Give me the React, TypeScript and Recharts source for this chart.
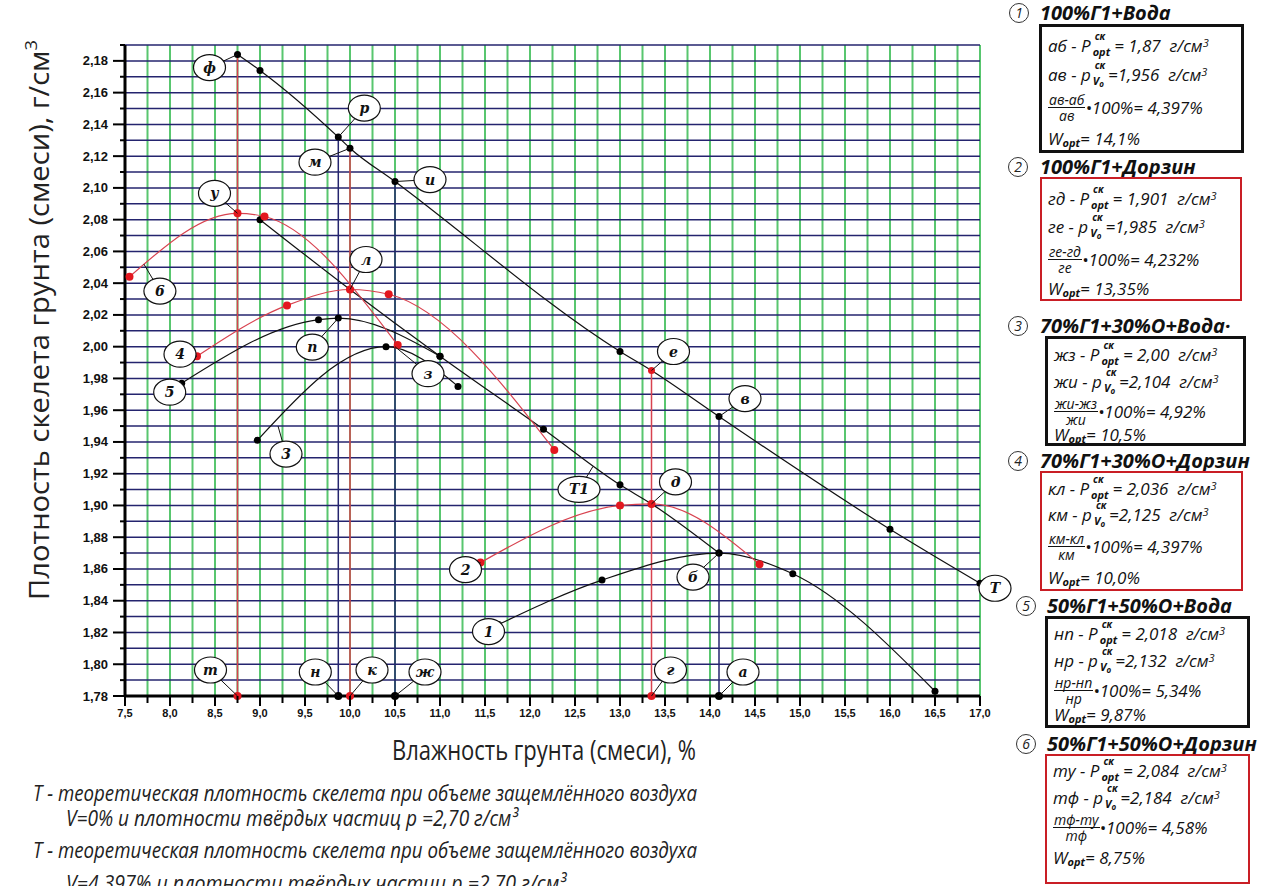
import React from "react";
import { LineChart, Line, XAxis, YAxis, CartesianGrid, ReferenceDot } from "recharts";

// влажность W, % -> плотность скелета, г/см3
const tW = [8.75, 9.0, 9.87, 10.0, 10.5, 13.0, 13.35, 14.1, 16.0, 17.0];
const tP = [2.184, 2.174, 2.132, 2.125, 2.104, 1.997, 1.985, 1.956, 1.885, 1.851];
const t1W = [9.0, 10.0, 11.0, 12.15, 13.0, 13.35, 14.1];
const t1P = [2.08, 2.036, 1.994, 1.948, 1.913, 1.901, 1.87];

const c1W = [11.65, 12.8, 14.1, 14.92, 16.5];
const c1P = [1.825, 1.853, 1.87, 1.857, 1.783];
const c2W = [11.45, 13.0, 13.35, 14.55];
const c2P = [1.864, 1.9, 1.901, 1.863];
const c3W = [8.97, 10.4, 11.2];
const c3P = [1.941, 2.0, 1.975];
const c4W = [8.3, 9.3, 10.0, 10.43, 12.27];
const c4P = [1.994, 2.026, 2.036, 2.033, 1.935];
const c5W = [8.13, 9.65, 9.87, 11.0];
const c5P = [1.977, 2.017, 2.018, 1.994];
const c6W = [7.55, 8.75, 9.05, 10.53];
const c6P = [2.044, 2.084, 2.082, 2.001];

// red-marked points on the theoretical lines
const tRedW = [13.35];
const t1RedW = [10.0, 13.35];

// drop lines W_opt / W at V0
const dropW = [8.75, 9.87, 10.0, 10.5, 13.35, 14.1];
const dropTop = [2.184, 2.132, 2.125, 2.104, 1.985, 1.956];
const dropDorzin = [true, false, true, false, true, false];

// letter / number marks
const markNames = ["ф", "р", "м", "и", "у", "л", "6", "4", "5", "п", "з", "3", "е", "в", "д", "T1", "2", "б", "1", "T", "т", "н", "к", "ж", "г", "а"];
const markW = [8.75, 9.87, 10.0, 10.5, 8.75, 10.0, 7.71, 8.3, 8.13, 9.87, 10.5, 9.2, 13.35, 14.1, 13.35, 12.7, 11.45, 14.1, 11.65, 17.0, 8.75, 9.87, 10.0, 10.5, 13.35, 14.1];
const markP = [2.184, 2.132, 2.125, 2.104, 2.084, 2.036, 2.052, 1.994, 1.977, 2.018, 2.0, 1.95, 1.985, 1.956, 1.901, 1.9246, 1.864, 1.87, 1.825, 1.851, 1.78, 1.78, 1.78, 1.78, 1.78, 1.78];
// pixel offsets of the circled tag from its point
const markOffset: [number, number][] = [
  [-28, 13], [26, -29], [-35, 14], [35, -2], [-23, -20], [16, -30], [16, 27], [-17, -2], [-12, 9], [-26, 29],
  [33, 27], [8, 28], [22, -19], [26, -18], [24, -22], [-14, 23], [-15, 7], [-26, 24], [-10, 7], [15, 5],
  [-27, -26], [-23, -24], [22, -26], [30, -24], [19, -26], [24, -24],
];

const xTickLabels = [7.5, 8.0, 8.5, 9.0, 9.5, 10.0, 10.5, 11.0, 11.5, 12.0, 12.5, 13.0, 13.5, 14.0, 14.5, 15.0, 15.5, 16.0, 16.5, 17.0];
const yTickLabels = [1.78, 1.8, 1.82, 1.84, 1.86, 1.88, 1.9, 1.92, 1.94, 1.96, 1.98, 2.0, 2.02, 2.04, 2.06, 2.08, 2.1, 2.12, 2.14, 2.16, 2.18];

// legend panel
const mixTitles = ["100%Г1+Вода", "100%Г1+Дорзин", "70%Г1+30%О+Вода·", "70%Г1+30%О+Дорзин", "50%Г1+50%О+Вода", "50%Г1+50%О+Дорзин"];
const optPairs = ["аб", "гд", "жз", "кл", "нп", "ту"];
const voPairs = ["ав", "ге", "жи", "км", "нр", "тф"];
const optDensity = ["1,87", "1,901", "2,00", "2,036", "2,018", "2,084"];
const voDensity = ["1,956", "1,985", "2,104", "2,125", "2,132", "2,184"];
const airVoid = ["4,397", "4,232", "4,92", "4,397", "5,34", "4,58"];
const optMoisture = ["14,1", "13,35", "10,5", "10,0", "9,87", "8,75"];

const blockGeom = [
  { titleY: 13, top: 24, bottom: 153, left: 1039, right: 1244, cx: 1018, tx: 1040, rows: [18, 47, 80, 111] },
  { titleY: 167, top: 177, bottom: 301, left: 1040, right: 1242, cx: 1017, tx: 1040, rows: [19, 47, 80, 109] },
  { titleY: 326, top: 336, bottom: 446, left: 1045, right: 1246, cx: 1017, tx: 1040, rows: [15, 42, 72, 95] },
  { titleY: 461, top: 471, bottom: 591, left: 1040, right: 1243, cx: 1017, tx: 1040, rows: [15, 41, 73, 104] },
  { titleY: 606, top: 616, bottom: 728, left: 1045, right: 1250, cx: 1025, tx: 1047, rows: [14, 41, 71, 95] },
  { titleY: 744, top: 754, bottom: 884, left: 1045, right: 1250, cx: 1025, tx: 1047, rows: [14, 41, 71, 101] },
];

const RED = "#e3171f";
const RED_LINE = "#d8424f";
const NAVY = "#24246e";
const GREEN = "#58c66f";

const pts = (w: number[], p: number[]) => w.map((x, i) => ({ x, y: p[i] }));
const withMinor = (m: number[]) =>
  m.flatMap((v, i) => (i < m.length - 1 ? [v, +((v + m[i + 1]) / 2).toFixed(3)] : [v]));
const comma = (v: number, d: number) => v.toFixed(d).replace(".", ",");

const xTicks = withMinor(xTickLabels);
const yTicks = [...withMinor(yTickLabels), 2.19];

function XTick(props: any) {
  const { x, y, payload } = props;
  const v = payload.value as number;
  const major = Math.abs(v * 2 - Math.round(v * 2)) < 1e-6;
  return (
    <g>
      <line x1={x} x2={x} y1={y} y2={y + (major ? 10 : 7)} stroke="#000" strokeWidth={2} />
      {major && (
        <text x={x} y={y + 21} textAnchor="middle" fontFamily="Liberation Sans, Arial, sans-serif" fontWeight="bold" fontSize={11} fill="#111">
          {comma(v, 1)}
        </text>
      )}
    </g>
  );
}

function YTick(props: any) {
  const { x, y, payload } = props;
  const v = payload.value as number;
  const major = Math.abs(v * 50 - Math.round(v * 50)) < 1e-6;
  return (
    <g>
      <line x1={x - (major ? 12 : 5)} x2={x} y1={y} y2={y} stroke="#000" strokeWidth={2} />
      {major && v < 2.185 && (
        <text x={x - 17} y={y + 4.5} textAnchor="end" fontFamily="Liberation Sans, Arial, sans-serif" fontWeight="bold" fontSize={13} fill="#111">
          {comma(v, 2)}
        </text>
      )}
    </g>
  );
}

const dotFn = (color: (x: number) => string, r: number) => (p: any) => (
  <circle key={`d${p.index}`} cx={p.cx} cy={p.cy} r={r} fill={color(p.payload.x)} stroke="none" />
);

function Tag({ cx, cy, i }: { cx: number; cy: number; i: number }) {
  const [dx, dy] = markOffset[i];
  const name = markNames[i];
  const rx = name.length > 1 ? 21 : 16;
  return (
    <g>
      <line x1={cx} y1={cy} x2={cx + dx} y2={cy + dy} stroke="#111" strokeWidth={1} />
      <ellipse cx={cx + dx} cy={cy + dy} rx={rx} ry={13} fill="#fff" stroke="#111" strokeWidth={1.2} />
      <text x={cx + dx} y={cy + dy + 5} textAnchor="middle" fontFamily="DejaVu Serif, serif" fontStyle="italic" fontWeight="bold" fontSize={14} fill="#111">
        {name}
      </text>
    </g>
  );
}

const yTitle = () => (
  <text
    x={49}
    y={320}
    transform="rotate(-90, 49, 320)"
    textAnchor="middle"
    fontFamily="Open Sans, sans-serif"
    fontSize={27}
    fill="#222"
    textLength={560}
    lengthAdjust="spacingAndGlyphs"
  >
    Плотность скелета грунта (смеси), г/см
    <tspan dy={-12} fontSize={17}>3</tspan>
  </text>
);

const xTitle = () => (
  <text x={544} y={760} textAnchor="middle" fontFamily="Open Sans, sans-serif" fontSize={27} fill="#222" textLength={304} lengthAdjust="spacingAndGlyphs">
    Влажность грунта (смеси), %
  </text>
);

function PStack({ sub }: { sub: React.ReactNode }) {
  return (
    <span style={{ position: "relative", display: "inline-block", margin: "0 4px 0 2px" }}>
      <span style={{ position: "absolute", left: 2, top: -3, fontSize: 10, fontWeight: 700, lineHeight: "11px" }}>ск</span>
      <span style={{ fontSize: 11, fontWeight: 700, position: "relative", top: 4 }}>{sub}</span>
    </span>
  );
}

const font = "'Open Sans', sans-serif";

function Row({ y, children }: { y: number; children: React.ReactNode }) {
  return (
    <div
      style={{
        position: "absolute",
        left: 6,
        top: y - 12,
        height: 24,
        display: "flex",
        alignItems: "center",
        whiteSpace: "pre",
        fontStyle: "italic",
        fontSize: 17,
        color: "#111",
      }}
    >
      {children}
    </div>
  );
}

function Block({ i }: { i: number }) {
  const g = blockGeom[i];
  const dorzin = i % 2 === 1;
  return (
    <>
      <div style={{ position: "absolute", left: g.cx - 9, top: g.titleY - 10, width: 18, height: 18, border: "1px solid #333", borderRadius: "50%", fontFamily: font, fontSize: 14, lineHeight: "18px", textAlign: "center", fontStyle: "italic", color: "#222" }}>
        {i + 1}
      </div>
      <div style={{ position: "absolute", left: g.tx, top: g.titleY - 12, fontFamily: font, fontSize: 20, fontWeight: 700, fontStyle: "italic", lineHeight: "24px", color: "#111", whiteSpace: "nowrap" }}>
        {mixTitles[i]}
      </div>
      <div
        style={{
          position: "absolute",
          left: g.left,
          top: g.top,
          width: g.right - g.left,
          height: g.bottom - g.top,
          boxSizing: "border-box",
          border: dorzin ? "2.5px solid #c91e25" : "3px solid #111",
          fontFamily: font,
        }}
      >
        <Row y={g.rows[0]}>
          {optPairs[i]} - P<PStack sub="opt" />= {optDensity[i]}  г/см<sup style={{ fontSize: 11, position: "relative", top: -3 }}>3</sup>
        </Row>
        <Row y={g.rows[1]}>
          {voPairs[i]} - p
          <PStack
            sub={
              <span>
                V<span style={{ fontSize: 8, position: "relative", top: 2 }}>o</span>
              </span>
            }
          />
          ={voDensity[i]}  г/см<sup style={{ fontSize: 11, position: "relative", top: -3 }}>3</sup>
        </Row>
        <Row y={g.rows[2]}>
          <span style={{ display: "inline-flex", flexDirection: "column", alignItems: "center", fontSize: 14, lineHeight: "15px" }}>
            <span style={{ borderBottom: "1.5px solid #111", padding: "0 1px" }}>
              {voPairs[i]}-{optPairs[i]}
            </span>
            <span>{voPairs[i]}</span>
          </span>
          <span>•100%= {airVoid[i]}%</span>
        </Row>
        <Row y={g.rows[3]}>
          W<span style={{ fontSize: 11, fontWeight: 700, position: "relative", top: 4 }}>opt</span>= {optMoisture[i]}%
        </Row>
      </div>
    </>
  );
}

export default function App() {
  const tagIdx = markNames.map((_, i) => i);
  return (
    <div style={{ position: "absolute", left: 0, top: 0, width: 1272, height: 886, background: "#fff", overflow: "hidden" }}>
      <LineChart width={1015} height={780} margin={{ top: 45, right: 35, bottom: 40, left: 0 }} style={{ position: "absolute", left: 0, top: 0 }}>
        <CartesianGrid horizontal={false} stroke={GREEN} strokeWidth={2} />
        <CartesianGrid vertical={false} stroke={NAVY} strokeWidth={1.5} />
        <XAxis
          dataKey="x"
          type="number"
          domain={[7.5, 17]}
          ticks={xTicks}
          interval={0}
          height={44}
          tickSize={0}
          tickMargin={0}
          tickLine={false}
          tick={<XTick />}
          axisLine={{ stroke: "#000", strokeWidth: 3 }}
          label={{ content: xTitle }}
        />
        <YAxis
          dataKey="y"
          type="number"
          domain={[1.78, 2.19]}
          ticks={yTicks}
          interval={0}
          width={125}
          tickSize={0}
          tickMargin={0}
          tickLine={false}
          tick={<YTick />}
          axisLine={{ stroke: "#000", strokeWidth: 3 }}
          label={{ content: yTitle }}
        />
        {dropW.map((w, i) => (
          <Line
            key={`drop${i}`}
            data={pts([w, w], [1.78, dropTop[i]])}
            dataKey="y"
            type="linear"
            stroke={dropDorzin[i] ? RED_LINE : NAVY}
            strokeWidth={1.5}
            dot={(p: any) =>
              p.index === 0 ? (
                <circle key={`b${p.index}`} cx={p.cx} cy={p.cy} r={4} fill={dropDorzin[i] ? RED : "#000"} />
              ) : (
                <g key={`b${p.index}`} />
              )
            }
            isAnimationActive={false}
          />
        ))}
        <Line data={pts(tW, tP)} dataKey="y" type="monotone" stroke="#111" strokeWidth={1.2} dot={dotFn((x) => (tRedW.includes(x) ? RED : "#000"), 3.5)} isAnimationActive={false} />
        <Line data={pts(t1W, t1P)} dataKey="y" type="monotone" stroke="#111" strokeWidth={1.2} dot={dotFn((x) => (t1RedW.includes(x) ? RED : "#000"), 3.5)} isAnimationActive={false} />
        <Line data={pts(c1W, c1P)} dataKey="y" type="monotone" stroke="#111" strokeWidth={1.2} dot={dotFn(() => "#000", 3.5)} isAnimationActive={false} />
        <Line data={pts(c3W, c3P)} dataKey="y" type="monotone" stroke="#111" strokeWidth={1.2} dot={dotFn(() => "#000", 3.5)} isAnimationActive={false} />
        <Line data={pts(c5W, c5P)} dataKey="y" type="monotone" stroke="#111" strokeWidth={1.2} dot={dotFn(() => "#000", 3.5)} isAnimationActive={false} />
        <Line data={pts(c2W, c2P)} dataKey="y" type="monotone" stroke={RED_LINE} strokeWidth={1.2} dot={dotFn(() => RED, 4)} isAnimationActive={false} />
        <Line data={pts(c4W, c4P)} dataKey="y" type="monotone" stroke={RED_LINE} strokeWidth={1.2} dot={dotFn(() => RED, 4)} isAnimationActive={false} />
        <Line data={pts(c6W, c6P)} dataKey="y" type="monotone" stroke={RED_LINE} strokeWidth={1.2} dot={dotFn(() => RED, 4)} isAnimationActive={false} />
        {tagIdx.map((i) => (
          <ReferenceDot
            key={`tag${i}`}
            x={markW[i]}
            y={markP[i]}
            r={0}
            ifOverflow="visible"
            shape={(p: any) => <Tag cx={p.cx} cy={p.cy} i={i} />}
          />
        ))}
      </LineChart>

      <svg width={1272} height={886} style={{ position: "absolute", left: 0, top: 0, pointerEvents: "none" }}>
        <g fontFamily={font} fontStyle="italic" fontSize={22} fill="#222">
          <text x={33} y={801} textLength={664} lengthAdjust="spacingAndGlyphs">
            T - теоретическая плотность скелета при объеме защемлённого воздуха
          </text>
          <text x={66} y={826} textLength={452} lengthAdjust="spacingAndGlyphs">
            V=0% и плотности твёрдых частиц р =2,70 г/см³
          </text>
          <text x={33} y={858} textLength={664} lengthAdjust="spacingAndGlyphs">
            T - теоретическая плотность скелета при объеме защемлённого воздуха
          </text>
          <text x={66} y={891} textLength={500} lengthAdjust="spacingAndGlyphs">
            V=4,397% и плотности твёрдых частиц р =2,70 г/см³
          </text>
        </g>
      </svg>

      {mixTitles.map((_, i) => (
        <Block key={i} i={i} />
      ))}
    </div>
  );
}
